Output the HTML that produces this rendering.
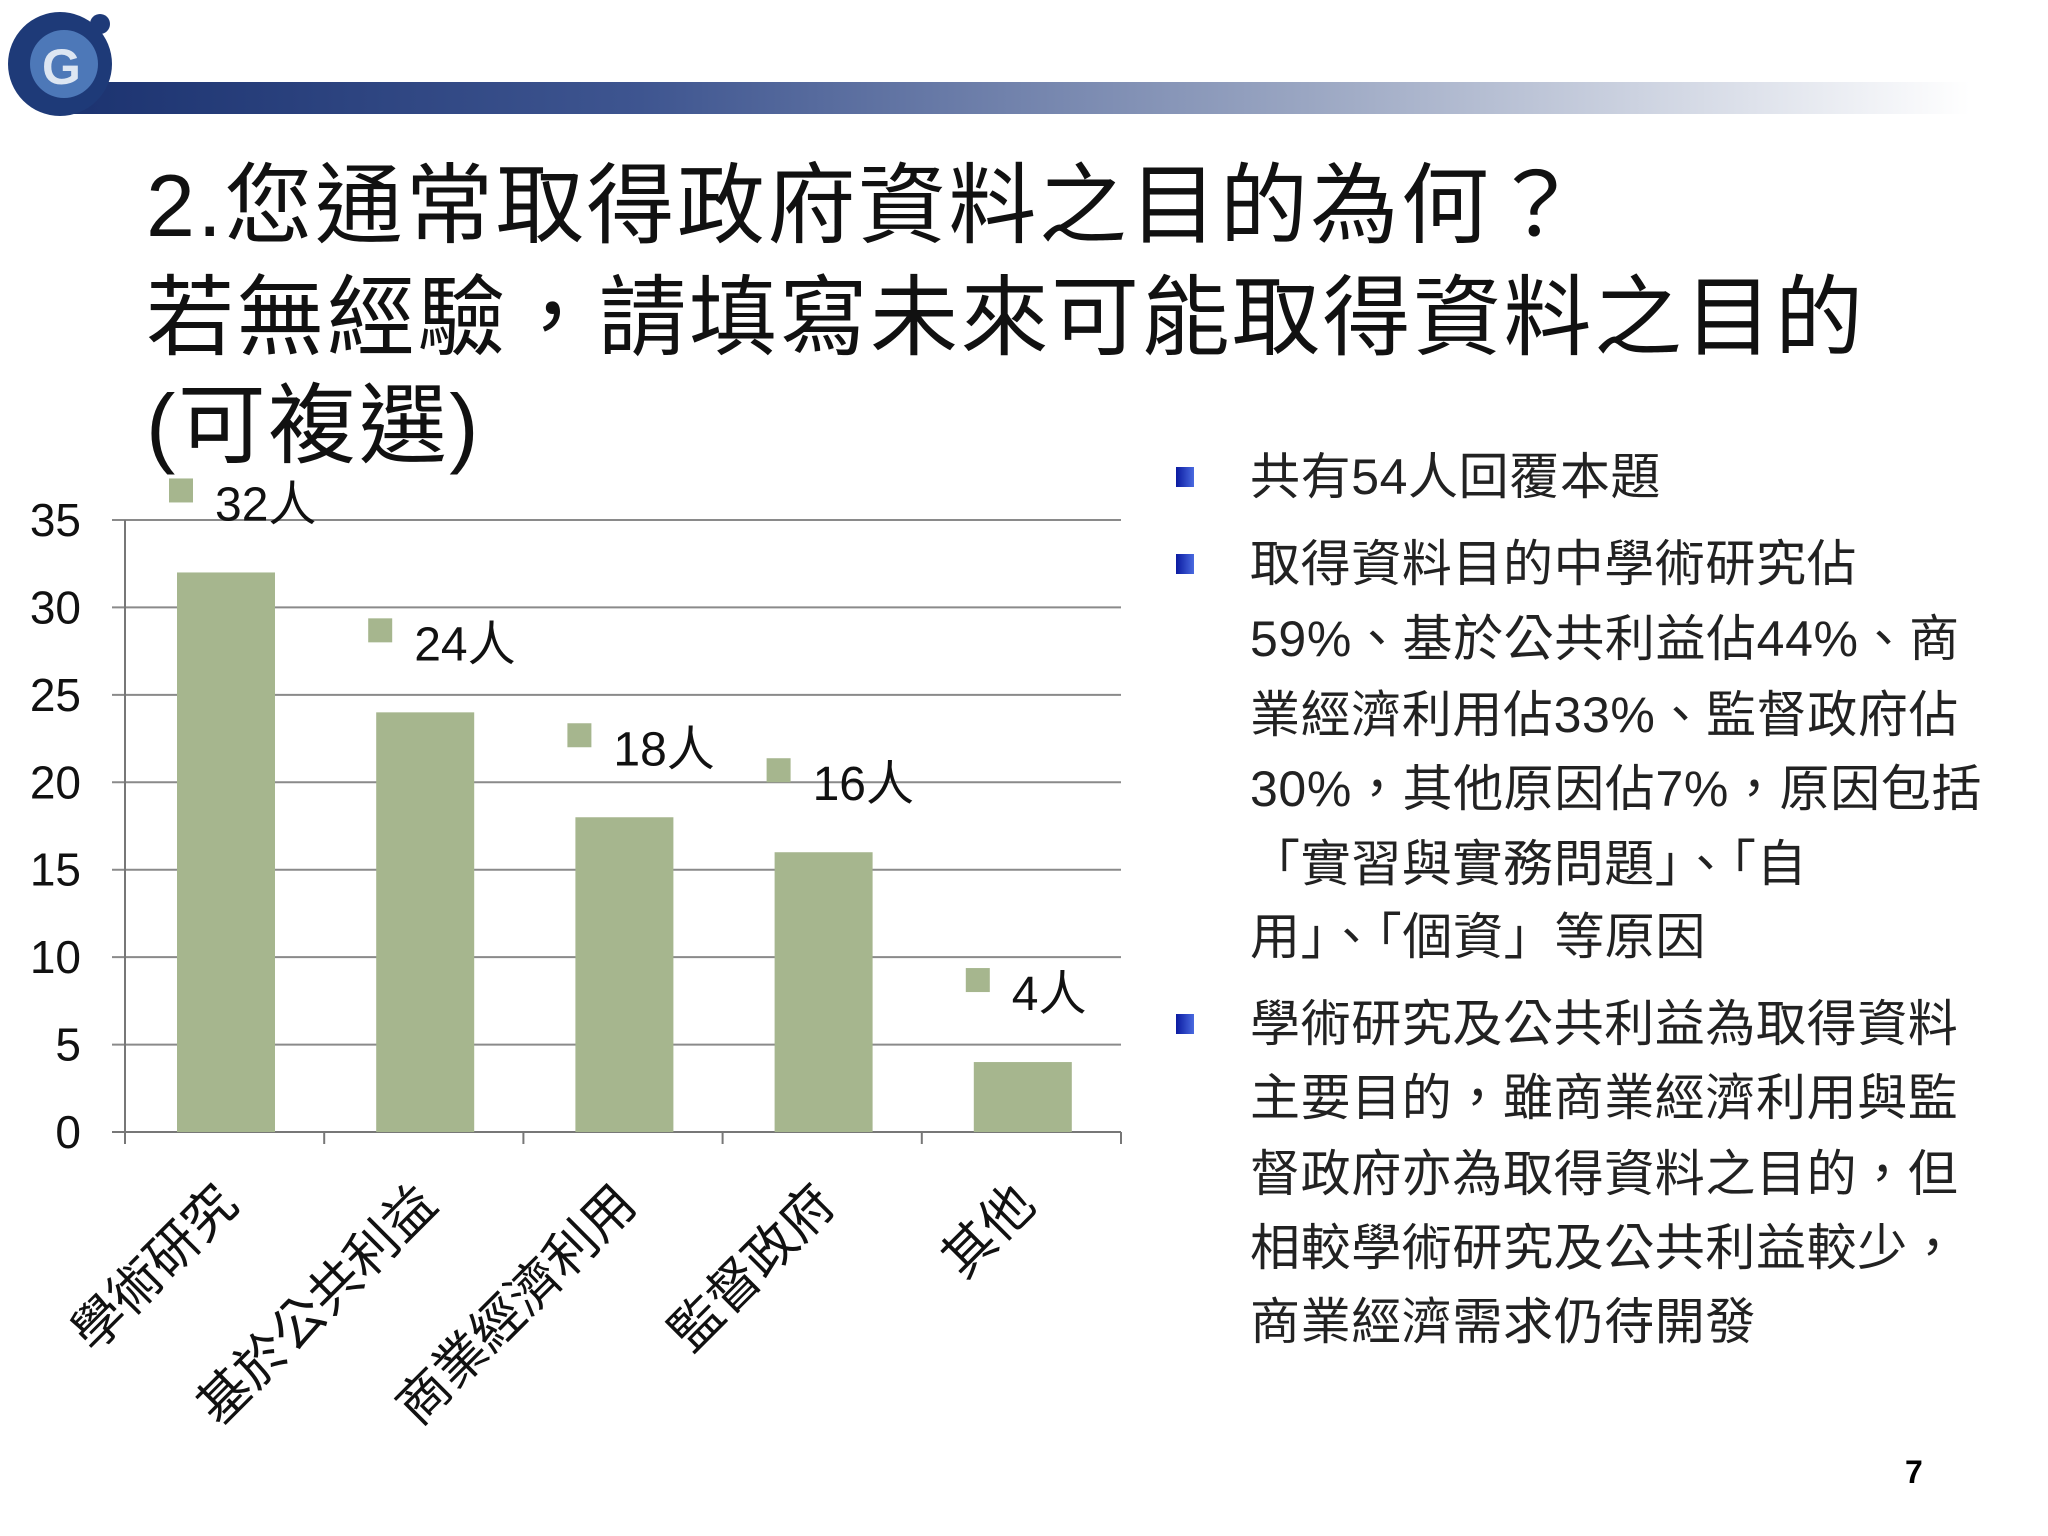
<!DOCTYPE html>
<html><head><meta charset="utf-8"><style>
body{margin:0;width:2048px;height:1536px;background:#fff;position:relative;overflow:hidden;font-family:"Liberation Sans","Noto Sans CJK TC",sans-serif;}
.t{position:absolute;white-space:nowrap;}
.title{left:146px;font-size:88px;color:#111;line-height:1;letter-spacing:2.5px;}
.b{left:1250px;font-size:50px;letter-spacing:0.6px;color:#222;line-height:1;transform:translateY(-50%);}
.sq{position:absolute;left:1176px;width:18px;height:20px;background:linear-gradient(90deg,#0a1aa0,#4a6ae0);transform:translateY(-50%);}
</style></head><body>
<div style="position:absolute;left:70px;top:82px;width:1900px;height:32px;background:linear-gradient(90deg,#1c3370 0%,#3e5590 30%,#9aa6c2 65%,#fff 100%);"></div>
<svg style="position:absolute;left:4px;top:4px" width="120" height="116">
<circle cx="56" cy="60" r="52" fill="#1e3a78"/><circle cx="60" cy="60" r="34" fill="#4d78b8"/>
<text x="38" y="80" font-size="50" font-weight="bold" fill="#dde6f2" font-family="Liberation Sans">G</text>
<circle cx="96" cy="20" r="10" fill="#1e3a78"/></svg>
<div class="t title" style="top:162px">2.您通常取得政府資料之目的為何？</div>
<div class="t title" style="top:274px">若無經驗，請填寫未來可能取得資料之目的</div>
<div class="t title" style="top:382px">(可複選)</div>
<svg id="chart" style="position:absolute;left:0;top:0" width="1200" height="1536"></svg>
<div class="sq" style="top:477px"></div>
<div class="sq" style="top:564px"></div>
<div class="sq" style="top:1024px"></div>
<div class="t b" style="top:477px">共有54人回覆本題</div>
<div class="t b" style="top:564px">取得資料目的中學術研究佔</div>
<div class="t b" style="top:639px">59%、基於公共利益佔44%、商</div>
<div class="t b" style="top:715px">業經濟利用佔33%、監督政府佔</div>
<div class="t b" style="top:789px">30%，其他原因佔7%，原因包括</div>
<div class="t b" style="top:864px">「實習與實務問題」、「自</div>
<div class="t b" style="top:937px">用」、「個資」等原因</div>
<div class="t b" style="top:1024px">學術研究及公共利益為取得資料</div>
<div class="t b" style="top:1098px">主要目的，雖商業經濟利用與監</div>
<div class="t b" style="top:1174px">督政府亦為取得資料之目的，但</div>
<div class="t b" style="top:1248px">相較學術研究及公共利益較少，</div>
<div class="t b" style="top:1322px">商業經濟需求仍待開發</div>
<div class="t" style="left:1905px;top:1454px;font-size:32px;font-weight:bold;">7</div>
<script>
const categories=["學術研究","基於公共利益","商業經濟利用","監督政府","其他"];
const values=[32,24,18,16,4];
const labels=["32人","24人","18人","16人","4人"];
const ticks=[0,5,10,15,20,25,30,35];
const NS="http://www.w3.org/2000/svg",svg=document.getElementById("chart");
const X0=125,X1=1121,Y0=1132,Y35=520,cw=(X1-X0)/categories.length;
const y=v=>Y0-(v/35)*(Y0-Y35);
function mk(t,a,p){const e=document.createElementNS(NS,t);for(const k in a)e.setAttribute(k,a[k]);(p||svg).appendChild(e);return e;}
ticks.forEach(t=>{
 const l=mk("line",{x1:112,x2:X1,y1:y(t),y2:y(t),stroke:t?"#8a8a8a":"#777","stroke-width":2});
 
 
 const tx=mk("text",{x:81,y:y(t)+16,"text-anchor":"end","font-size":46,fill:"#111","font-family":"Liberation Sans"});
 tx.textContent=t;
 
 
});
const ax=mk("line",{x1:X0,x2:X0,y1:Y35,y2:Y0+10,stroke:"#777","stroke-width":2});


for(let i=0;i<=categories.length;i++){const tk=mk("line",{x1:X0+i*cw,x2:X0+i*cw,y1:Y0,y2:Y0+12,stroke:"#777","stroke-width":2});
 
 }
categories.forEach((c,i)=>{
 const bx=X0+i*cw+52;
 const r=mk("rect",{x:bx,y:y(values[i]),width:98,height:Y0-y(values[i]),fill:"#a6b68e"});
 
 
 const ly=y(values[i])-82;
 const m=mk("rect",{x:bx-8,y:ly-12,width:24,height:24,fill:"#a6b68e"});
 
 
 const lt=mk("text",{x:bx+38,y:ly+30,"font-size":48,fill:"#111","font-family":"Liberation Sans, Noto Sans CJK TC, sans-serif"});
 lt.textContent=labels[i];
 
 
 const cx=X0+i*cw+cw/2;
 const xt=mk("text",{x:0,y:0,"text-anchor":"end","font-size":52,fill:"#111","font-family":"Liberation Sans, Noto Sans CJK TC, sans-serif",transform:`translate(${cx+16},${Y0+75}) rotate(-45)`});
 xt.textContent=c;
 
 
});
</script>
</body></html>
